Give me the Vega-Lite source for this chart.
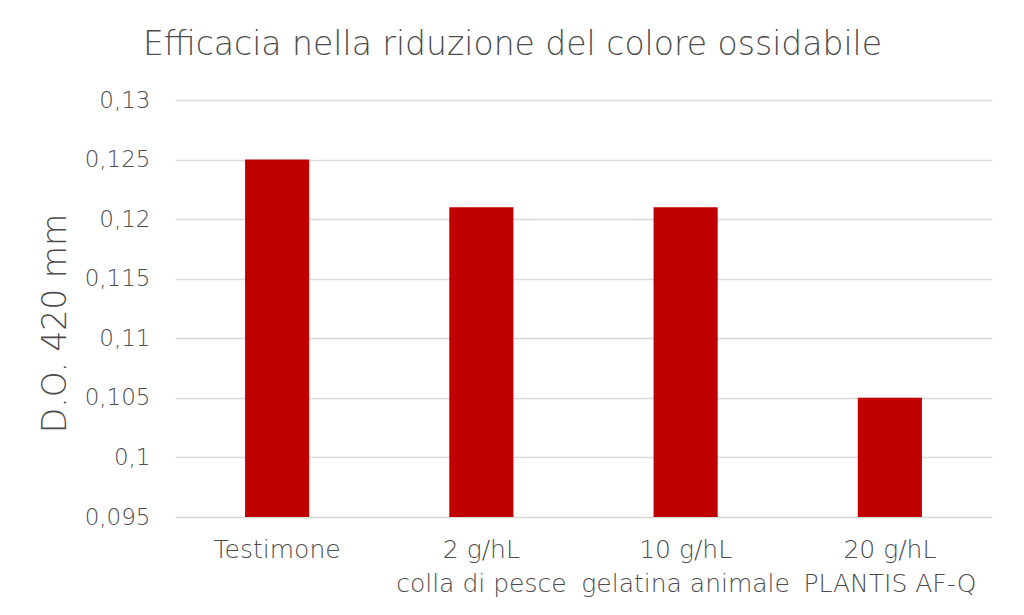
{
  "$schema": "https://vega.github.io/schema/vega-lite/v6.json",
  "width": 817,
  "height": 417,
  "autosize": "none",
  "padding": {"left": 175, "top": 100, "right": 32, "bottom": 98},
  "background": "white",
  "config": {
    "view": {"stroke": null},
    "font": "DejaVu Sans"
  },
  "title": {
    "text": "Efficacia nella riduzione del colore ossidabile",
    "fontSize": 33,
    "fontWeight": 200,
    "color": "#4d4d4d",
    "font": "DejaVu Sans",
    "anchor": "middle",
    "dx": -71,
    "baseline": "alphabetic",
    "offset": 1
  },
  "data": {
    "values": [
      {"categoria": "Testimone", "valore": 0.125},
      {"categoria": "2 g/hL|colla di pesce", "valore": 0.121},
      {"categoria": "10 g/hL|gelatina animale", "valore": 0.121},
      {"categoria": "20 g/hL|PLANTIS AF-Q", "valore": 0.105}
    ]
  },
  "mark": {"type": "bar", "color": "#C00000"},
  "encoding": {
    "x": {
      "field": "categoria",
      "type": "nominal",
      "sort": null,
      "scale": {"paddingInner": 0.686, "paddingOuter": 0.343},
      "axis": {
        "title": null,
        "labelAngle": 0,
        "labelExpr": "split(datum.label, '|')",
        "labelFontSize": 25,
        "labelFontWeight": 200,
        "labelColor": "#4d4d4d",
        "labelFont": "DejaVu Sans",
        "labelLineHeight": 34,
        "labelPadding": 20,
        "labelBaseline": "top",
        "labelLimit": 300,
        "ticks": false,
        "domain": false
      }
    },
    "y": {
      "field": "valore",
      "type": "quantitative",
      "scale": {"domain": [0.095, 0.13], "zero": false, "nice": false},
      "axis": {
        "title": "D.O. 420 mm",
        "titleFontSize": 33,
        "titleFontWeight": 200,
        "titleColor": "#4d4d4d",
        "titleFont": "DejaVu Sans",
        "titleAngle": -90,
        "titleX": -120,
        "titleY": 223,
        "titleAlign": "center",
        "titleBaseline": "middle",
        "values": [0.095, 0.1, 0.105, 0.11, 0.115, 0.12, 0.125, 0.13],
        "labelExpr": "replace(format(datum.value, '~g'), '.', ',')",
        "labelFontSize": 23,
        "labelFontWeight": 200,
        "labelColor": "#4d4d4d",
        "labelFont": "DejaVu Sans",
        "labelPadding": 25,
        "ticks": false,
        "domain": false,
        "grid": true,
        "gridColor": "#d9d9d9",
        "gridWidth": 1.5
      }
    },
    "y2": {"datum": 0.095}
  }
}
